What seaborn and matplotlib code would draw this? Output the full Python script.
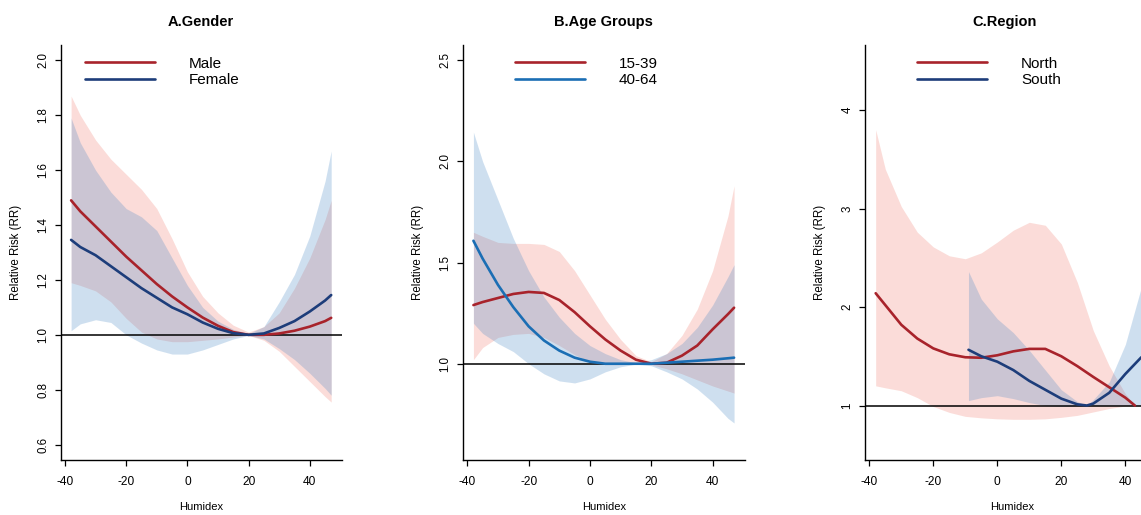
import numpy as np
import pandas as pd
import matplotlib
matplotlib.use("Agg")
import matplotlib.pyplot as plt
import seaborn as sns

# ---------------------------------------------------------
# Data (RR curves + 95% CI bands)
# ---------------------------------------------------------
# A. Gender
gender_x = [-38, -35, -30, -25, -20, -15, -10, -5, 0, 5, 10, 15, 20, 25, 30, 35, 40, 45, 47]
male_rr = [1.49, 1.45, 1.395, 1.34, 1.285, 1.235, 1.185, 1.14, 1.10, 1.063, 1.033, 1.01, 1.0,
           1.0, 1.005, 1.015, 1.03, 1.05, 1.062]
male_lo = [1.19, 1.18, 1.16, 1.12, 1.06, 1.01, 0.985, 0.975, 0.975, 0.98, 0.985, 0.992, 0.998,
           0.98, 0.94, 0.885, 0.83, 0.775, 0.755]
male_hi = [1.87, 1.80, 1.71, 1.64, 1.585, 1.53, 1.46, 1.35, 1.23, 1.14, 1.08, 1.035, 1.01,
           1.03, 1.08, 1.17, 1.28, 1.42, 1.49]
female_rr = [1.346, 1.32, 1.29, 1.25, 1.21, 1.17, 1.135, 1.10, 1.075, 1.045, 1.022, 1.006, 1.0,
             1.005, 1.025, 1.05, 1.085, 1.125, 1.145]
female_lo = [1.015, 1.04, 1.055, 1.045, 1.0, 0.97, 0.945, 0.93, 0.93, 0.945, 0.965, 0.985, 0.998,
             0.985, 0.95, 0.91, 0.86, 0.805, 0.78]
female_hi = [1.79, 1.70, 1.60, 1.52, 1.46, 1.43, 1.38, 1.28, 1.18, 1.10, 1.05, 1.02, 1.005,
             1.03, 1.12, 1.22, 1.36, 1.56, 1.67]

# B. Age groups
age_x = [-38, -35, -30, -25, -20, -15, -10, -5, 0, 5, 10, 15, 20, 25, 30, 35, 40, 45, 47]
young_rr = [1.29, 1.305, 1.325, 1.345, 1.355, 1.35, 1.315, 1.255, 1.185, 1.12, 1.065, 1.02, 1.0,
            1.005, 1.04, 1.09, 1.17, 1.245, 1.277]
young_lo = [1.02, 1.08, 1.13, 1.145, 1.15, 1.13, 1.09, 1.045, 1.01, 0.995, 0.995, 0.998, 0.995,
            0.975, 0.95, 0.92, 0.89, 0.865, 0.855]
young_hi = [1.65, 1.63, 1.60, 1.595, 1.595, 1.59, 1.555, 1.46, 1.34, 1.22, 1.12, 1.04, 1.01,
            1.05, 1.14, 1.27, 1.46, 1.73, 1.88]
old_rr = [1.608, 1.52, 1.39, 1.28, 1.185, 1.115, 1.065, 1.03, 1.01, 1.0, 1.0, 1.0, 1.0,
          1.005, 1.01, 1.015, 1.02, 1.027, 1.03]
old_lo = [1.20, 1.15, 1.10, 1.06, 1.0, 0.95, 0.915, 0.905, 0.925, 0.96, 0.985, 0.998, 0.99,
          0.96, 0.925, 0.875, 0.81, 0.73, 0.707]
old_hi = [2.145, 2.0, 1.81, 1.62, 1.46, 1.33, 1.23, 1.15, 1.09, 1.05, 1.02, 1.005, 1.02,
          1.05, 1.10, 1.18, 1.29, 1.43, 1.49]

# C. Region
north_x = [-38, -35, -30, -25, -20, -15, -10, -5, 0, 5, 10, 15, 20, 25, 30, 35, 40, 43]
north_rr = [2.14, 2.02, 1.82, 1.68, 1.58, 1.52, 1.49, 1.485, 1.51, 1.55, 1.575, 1.575, 1.50,
            1.40, 1.29, 1.185, 1.08, 1.0]
north_lo = [1.20, 1.18, 1.15, 1.08, 0.99, 0.93, 0.89, 0.875, 0.865, 0.86, 0.86, 0.865, 0.88,
            0.90, 0.935, 0.97, 0.995, 1.0]
north_hi = [3.80, 3.40, 3.02, 2.76, 2.61, 2.52, 2.49, 2.55, 2.66, 2.78, 2.86, 2.83, 2.64,
            2.25, 1.76, 1.40, 1.12, 1.0]
south_x = [-9, -5, 0, 5, 10, 15, 20, 25, 28, 30, 35, 40, 45]
south_rr = [1.566, 1.50, 1.445, 1.36, 1.25, 1.16, 1.07, 1.012, 1.0, 1.02, 1.13, 1.32, 1.49]
south_lo = [1.05, 1.08, 1.10, 1.07, 1.03, 1.0, 0.99, 0.995, 1.0, 1.0, 1.0, 1.0, 1.0]
south_hi = [2.36, 2.08, 1.88, 1.74, 1.56, 1.36, 1.16, 1.04, 1.0, 1.06, 1.24, 1.62, 2.2]

x_ticks = [-40, -20, 0, 20, 40]

RED = "#A8232B"
NAVY = "#1D3D7A"
BRIGHT_BLUE = "#1B6EB4"
PINK_FILL = "#EF6B5B"
BLUE_FILL = "#3F83C3"

W, H = 1141, 515
sns.set_theme(style="ticks")
plt.rcParams['font.family'] = ['Liberation Sans', 'DejaVu Sans']
plt.rcParams['text.color'] = 'black'
plt.rcParams['axes.labelcolor'] = 'black'
plt.rcParams['axes.linewidth'] = 1.0
plt.rcParams['xtick.major.size'] = 4.3
plt.rcParams['ytick.major.size'] = 4.3
plt.rcParams['xtick.major.width'] = 0.9
plt.rcParams['ytick.major.width'] = 0.9
plt.rcParams['xtick.color'] = 'black'
plt.rcParams['ytick.color'] = 'black'
plt.rcParams['axes.edgecolor'] = 'black'

fig = plt.figure(figsize=(W / 100, H / 100), dpi=100)


def draw_panel(left_px, width_px, title, title_x, s1, s2, blue, ylim, yticks, yticklabels, leg_px):
    ax = fig.add_axes([left_px / W, 1 - 460 / H, width_px / W, 415 / H])
    (x1, rr1, lo1, hi1, lab1), (x2, rr2, lo2, hi2, lab2) = s1, s2

    # 置信带（先画红色，再叠加蓝色）
    ax.fill_between(x1, lo1, hi1, color=PINK_FILL, alpha=0.23, lw=0)
    ax.fill_between(x2, lo2, hi2, color=BLUE_FILL, alpha=0.25, lw=0)
    ax.axhline(1.0, color='black', lw=1.1, zorder=2)

    df = pd.concat([
        pd.DataFrame({'x': x1, 'rr': rr1, 'group': lab1}),
        pd.DataFrame({'x': x2, 'rr': rr2, 'group': lab2}),
    ])
    sns.lineplot(data=df, x='x', y='rr', hue='group', hue_order=[lab1, lab2],
                 palette=[RED, blue], lw=1.9, errorbar=None, ax=ax, zorder=3)

    handles = ax.get_legend().legend_handles
    ax.get_legend().remove()
    for h in handles:
        h.set_linewidth(1.9)
    ax.legend(handles, [lab1, lab2], loc='upper left',
              bbox_to_anchor=(leg_px / W, 1 - 56.8 / H), bbox_transform=fig.transFigure,
              frameon=False, fontsize=11, handlelength=4.6, handletextpad=2.2,
              labelspacing=0.17, borderpad=0, borderaxespad=0)

    ax.set_xlim(-41.4, 50.4)
    ax.set_ylim(*ylim)
    ax.set_xticks(x_ticks)
    ax.set_xticklabels([str(v) for v in x_ticks], fontsize=8.6)
    ax.set_yticks(yticks)
    ax.set_yticklabels(yticklabels, fontsize=8.3, rotation=90, va='center')
    ax.tick_params(axis='x', pad=7)
    ax.tick_params(axis='y', pad=4)
    ax.set_xlabel('Humidex', fontsize=8, labelpad=10.5)
    ax.set_ylabel('Relative Risk (RR)', fontsize=8.3, labelpad=11)
    ax.set_title(title, fontsize=10.5, weight='bold', pad=14, x=title_x)
    sns.despine(ax=ax)
    return ax


draw_panel(60.7, 280.9, 'A.Gender', 0.5,
           (gender_x, male_rr, male_lo, male_hi, 'Male'),
           (gender_x, female_rr, female_lo, female_hi, 'Female'),
           NAVY, (0.544, 2.056), [0.6, 0.8, 1.0, 1.2, 1.4, 1.6, 1.8, 2.0],
           ['0.6', '0.8', '1.0', '1.2', '1.4', '1.6', '1.8', '2.0'], 85)

draw_panel(463.0, 281.5, 'B.Age Groups', 0.5,
           (age_x, young_rr, young_lo, young_hi, '15-39'),
           (age_x, old_rr, old_lo, old_hi, '40-64'),
           BRIGHT_BLUE, (0.524, 2.576), [1.0, 1.5, 2.0, 2.5],
           ['1.0', '1.5', '2.0', '2.5'], 515)

draw_panel(864.8, 293.8, 'C.Region', 0.477,
           (north_x, north_rr, north_lo, north_hi, 'North'),
           (south_x, south_rr, south_lo, south_hi, 'South'),
           NAVY, (0.447, 4.66), [1, 2, 3, 4],
           ['1', '2', '3', '4'], 917)

fig.savefig('out.png', dpi=100)
